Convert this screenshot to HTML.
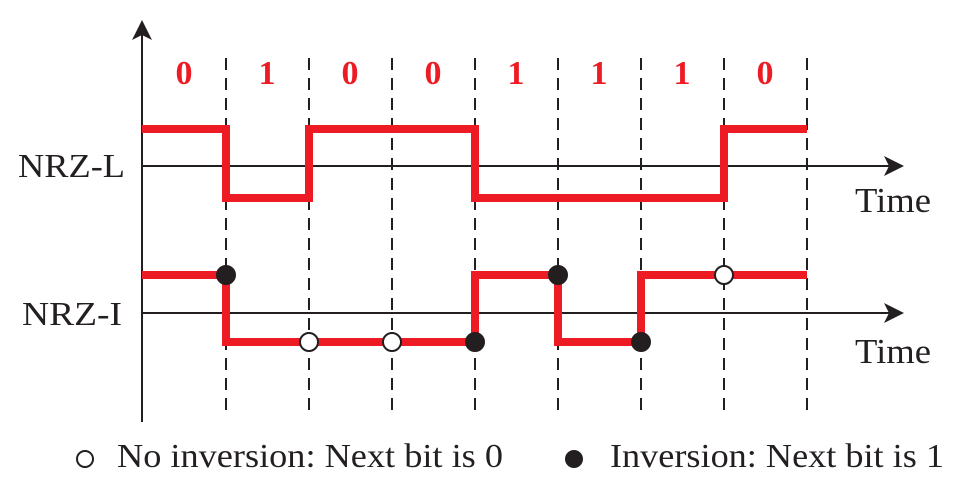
<!DOCTYPE html>
<html><head><style>
html,body{margin:0;padding:0;background:#fff;}
svg{display:block;}
text{font-family:"Liberation Serif",serif;fill:#231f20;}
.b{font-weight:bold;fill:#ed1c24;font-size:34px;text-anchor:middle;}
</style></head><body>
<svg width="968" height="501" viewBox="0 0 968 501">
<g stroke="#231f20" stroke-width="2" stroke-dasharray="12,8" fill="none">
<line x1="226" y1="58" x2="226" y2="416"/>
<line x1="309" y1="58" x2="309" y2="416"/>
<line x1="392" y1="58" x2="392" y2="416"/>
<line x1="475" y1="58" x2="475" y2="416"/>
<line x1="558" y1="58" x2="558" y2="416"/>
<line x1="641" y1="58" x2="641" y2="416"/>
<line x1="724" y1="58" x2="724" y2="416"/>
<line x1="807" y1="58" x2="807" y2="416"/>
</g>
<g stroke="#231f20" stroke-width="2">
<line x1="142" y1="30" x2="142" y2="422"/>
<line x1="142" y1="166" x2="893" y2="166"/>
<line x1="142" y1="313" x2="893" y2="313"/>
</g>
<g fill="#231f20">
<polygon points="142,20 132,40 142,35 152,40"/>
<polygon points="904,166 884,156 889,166 884,176"/>
<polygon points="904,313 884,303 889,313 884,323"/>
</g>
<text class="b" x="184" y="84">0</text>
<text class="b" x="267" y="84">1</text>
<text class="b" x="350" y="84">0</text>
<text class="b" x="433" y="84">0</text>
<text class="b" x="516" y="84">1</text>
<text class="b" x="599" y="84">1</text>
<text class="b" x="682" y="84">1</text>
<text class="b" x="765" y="84">0</text>
<g stroke="#ed1c24" stroke-width="8" fill="none" stroke-linejoin="miter">
<polyline points="142,129 226,129 226,198 309,198 309,129 475,129 475,198 724,198 724,129 807,129"/>
<polyline points="142,275 226,275 226,342 475,342 475,275 558,275 558,342 641,342 641,275 807,275"/>
</g>
<g stroke="#231f20" stroke-width="2">
<circle cx="226" cy="275" r="9" fill="#231f20"/>
<circle cx="309" cy="342" r="9" fill="#fff"/>
<circle cx="392" cy="342" r="9" fill="#fff"/>
<circle cx="475" cy="342" r="9" fill="#231f20"/>
<circle cx="558" cy="275" r="9" fill="#231f20"/>
<circle cx="641" cy="342" r="9" fill="#231f20"/>
<circle cx="724" cy="275" r="9" fill="#fff"/>
<circle cx="85" cy="459" r="8" fill="#fff"/>
<circle cx="574" cy="459" r="8" fill="#231f20"/>
</g>
<text x="18" y="177" font-size="34" textLength="107" lengthAdjust="spacingAndGlyphs">NRZ-L</text>
<text x="22" y="325" font-size="34" textLength="100" lengthAdjust="spacingAndGlyphs">NRZ-I</text>
<text x="855" y="212" font-size="35" textLength="76" lengthAdjust="spacingAndGlyphs">Time</text>
<text x="855" y="363" font-size="35" textLength="76" lengthAdjust="spacingAndGlyphs">Time</text>
<text x="117" y="467" font-size="34" textLength="386" lengthAdjust="spacingAndGlyphs">No inversion: Next bit is 0</text>
<text x="610" y="467" font-size="34" textLength="334" lengthAdjust="spacingAndGlyphs">Inversion: Next bit is 1</text>
</svg>
</body></html>
